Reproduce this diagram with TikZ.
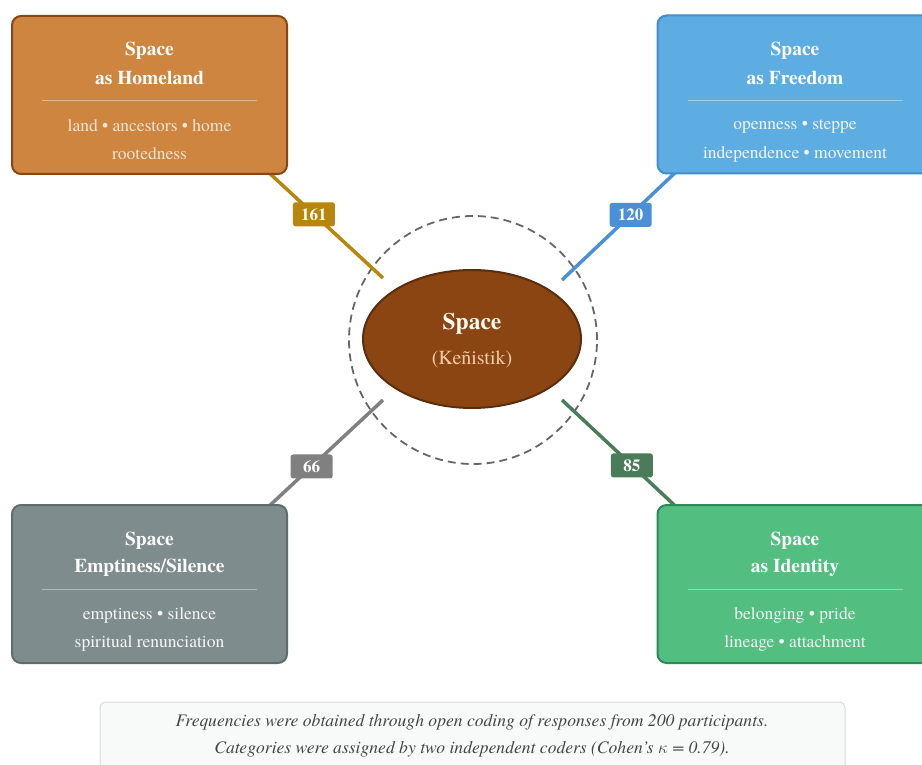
\documentclass[tikz,border=0pt]{standalone}
\usepackage{fontspec}
\setmainfont{texgyretermes}[Extension=.otf, UprightFont=*-regular, BoldFont=*-bold, ItalicFont=*-italic, BoldItalicFont=*-bolditalic]
\usetikzlibrary{shapes.geometric}
\definecolor{homefill}{HTML}{CD853F}
\definecolor{homedraw}{HTML}{8B4513}
\definecolor{homeline}{HTML}{B8860B}
\definecolor{freefill}{HTML}{5DADE2}
\definecolor{freedraw}{HTML}{3E8ED0}
\definecolor{freeline}{HTML}{4A90D9}
\definecolor{emptyfill}{HTML}{7F8C8D}
\definecolor{emptydraw}{HTML}{5D6D6E}
\definecolor{emptyline}{HTML}{808080}
\definecolor{idfill}{HTML}{52BE80}
\definecolor{iddraw}{HTML}{2E8B57}
\definecolor{idline}{HTML}{4A7C59}
\definecolor{corefill}{HTML}{8B4513}
\definecolor{coredraw}{HTML}{5A2D0C}
\definecolor{coresub}{HTML}{F5CBA7}
\definecolor{capfill}{HTML}{F8F9F9}
\definecolor{capdraw}{HTML}{DADADA}
\definecolor{captext}{HTML}{444444}
\begin{document}
\begin{tikzpicture}[x=1pt,y=-1pt,
  catbox/.style={draw, line width=2pt, rounded corners=9pt, minimum width=275pt, minimum height=158pt, inner sep=0pt},
  ttl/.style={font=\fontsize{19.5}{22}\selectfont\bfseries, text=white, inner sep=0pt},
  kw/.style={font=\fontsize{17.5}{18}\selectfont, text=white, text opacity=0.92, inner sep=0pt},
  divider/.style={draw=white, draw opacity=0.4, line width=0.8pt},
  badge/.style={rounded corners=2.5pt, minimum width=42pt, minimum height=24pt, inner sep=0pt, font=\fontsize{17}{17}\selectfont\bfseries, text=white},
  conn/.style={line width=3.5pt},
  captxt/.style={font=\fontsize{17.6}{18}\selectfont\itshape, text=captext, inner sep=0pt}
]
\useasboundingbox (0,0) rectangle (922,765);
\clip (0,0) rectangle (922,765);

% dashed ring
\node[draw=black!60, dashed, dash pattern=on 8pt off 5pt, line width=1.8pt, circle, minimum size=248pt, inner sep=0pt] (ring) at (473,340) {};

% connector end points near the core
\coordinate (hlEnd) at (383,278);
\coordinate (flEnd) at (562,280);
\coordinate (glEnd) at (383,400);
\coordinate (ilEnd) at (562,400);

% category boxes (positions)
\path (149.5,95) coordinate (hbc);
\path (795,94.5) coordinate (fbc);
\path (149.5,584) coordinate (ebc);
\path (795,584) coordinate (ibc);

\node[catbox, draw=none, fill=none] (hb0) at (hbc) {};
\node[catbox, draw=none, fill=none] (fb0) at (fbc) {};
\node[catbox, draw=none, fill=none] (eb0) at (ebc) {};
\node[catbox, draw=none, fill=none] (ib0) at (ibc) {};

\draw[conn, homeline] (hlEnd) -- node[badge, fill=homeline, pos=0.59] (b1) {161} ([xshift=-22pt,yshift=5pt]hb0.south east);
\draw[conn, freeline] (flEnd) -- node[badge, fill=freeline, pos=0.59] (b2) {120} ([xshift=22pt,yshift=5pt]fb0.south west);
\draw[conn, emptyline] (glEnd) -- node[badge, fill=emptyline, pos=0.61] (b3) {66} ([xshift=-22pt,yshift=-5pt]eb0.north east);
\draw[conn, idline] (ilEnd) -- node[badge, fill=idline, pos=0.60] (b4) {85} ([xshift=22pt,yshift=-5pt]ib0.north west);

% boxes
\node[catbox, draw=homedraw, fill=homefill] (hb) at (hbc) {};
\node[catbox, draw=freedraw, fill=freefill] (fb) at (fbc) {};
\node[catbox, draw=emptydraw, fill=emptyfill] (eb) at (ebc) {};
\node[catbox, draw=iddraw, fill=idfill] (ib) at (ibc) {};

% Homeland text
\node[ttl] (h1) at (149.5,51) {Space};
\node[ttl] (h2) at (149.5,78) {as Homeland};
\draw[divider] (42,100) -- (257,100);
\node[kw, text=homefill!15!white] (h3) at (149.5,126) {land • ancestors • home};
\node[kw, text=homefill!15!white] (h4) at (149.5,154) {rootedness};

% Freedom text
\node[ttl] (f1) at (795,51) {Space};
\node[ttl] (f2) at (795,78) {as Freedom};
\draw[divider] (688,100) -- (903,100);
\node[kw] (f3) at (795,126) {openness • steppe};
\node[kw] (f4) at (795,154) {independence • movement};

% Emptiness text
\node[ttl] (e1) at (149.5,541) {Space};
\node[ttl] (e2) at (149.5,568) {Emptiness/Silence};
\draw[divider] (42,589) -- (257,589);
\node[kw] (e3) at (149.5,615) {emptiness • silence};
\node[kw] (e4) at (149.5,643) {spiritual renunciation};

% Identity text
\node[ttl] (i1) at (795,541) {Space};
\node[ttl] (i2) at (795,568) {as Identity};
\draw[divider] (688,589) -- (903,589);
\node[kw] (i3) at (795,615) {belonging • pride};
\node[kw] (i4) at (795,643) {lineage • attachment};

% core
\node[ellipse, draw=coredraw, line width=2pt, fill=corefill, minimum width=218pt, minimum height=138pt, inner sep=0pt] (core) at (472,339) {};
\node[font=\fontsize{23.5}{24}\selectfont\bfseries, text=white!95!yellow, inner sep=0pt] (c1) at (472,324) {Space};
\node[font=\fontsize{20}{20}\selectfont, text=coresub, inner sep=0pt] (c2) at (472,359) {(Keñistik)};

% caption
\draw[draw=capdraw, fill=capfill, line width=1pt, rounded corners=6pt] (100,702) rectangle (845,790);
\node[captxt] (cap1) at (472,722) {Frequencies were obtained through open coding of responses from 200 participants.};
\node[captxt] (cap2) at (472,749) {Categories were assigned by two independent coders (Cohen’s \(\kappa\) = 0.79).};
\end{tikzpicture}
\end{document}
